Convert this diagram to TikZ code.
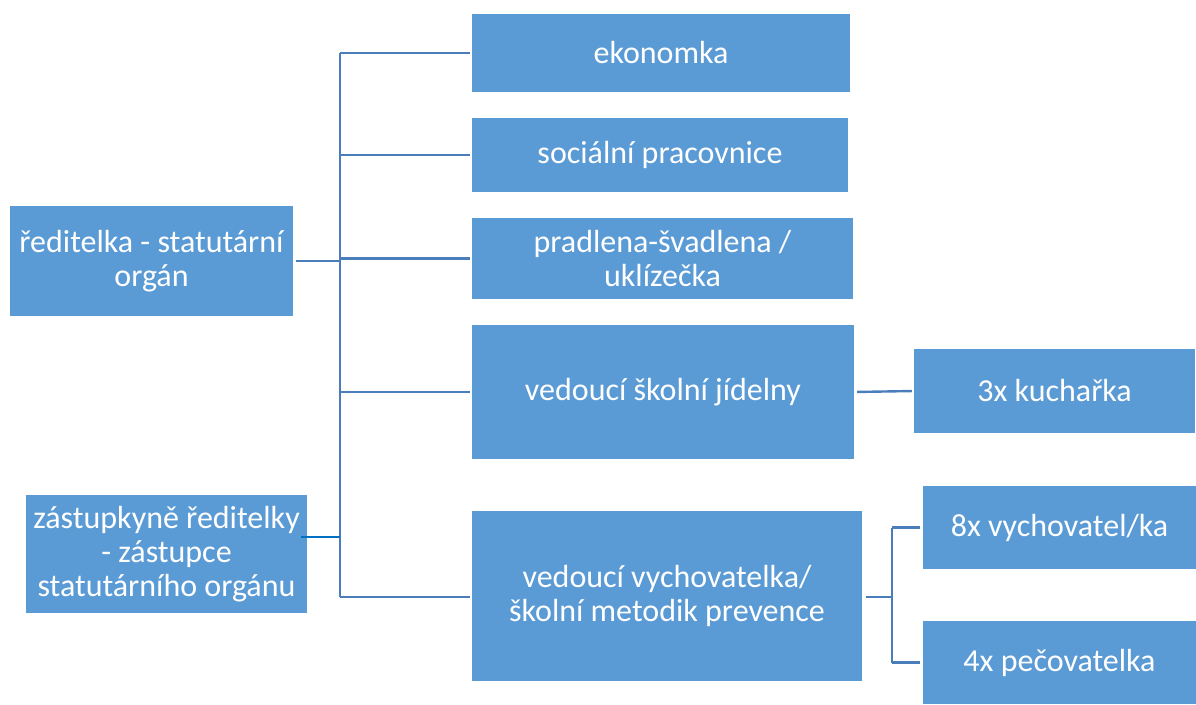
\documentclass[tikz,border=0pt]{standalone}
\usepackage{fontspec}
\setmainfont{Carlito}
\definecolor{boxblue}{HTML}{5B9BD5}
\definecolor{linkblue}{HTML}{4A7EBB}
\definecolor{brightblue}{HTML}{0070C0}
\begin{document}
\begin{tikzpicture}[x=1pt,y=-1pt,
  box/.style={fill=boxblue,draw=none,inner sep=0pt,text=white,align=center,
    font=\fontsize{32}{34}\selectfont},
  link/.style={draw=linkblue,line width=2.4pt},
  zlink/.style={draw=brightblue,line width=2.6pt}]
\useasboundingbox (0,0) rectangle (1196,704);
\node[box,minimum width=378pt,minimum height=78pt] (ekon) at (661,53) {ekonomka};
\node[box,minimum width=376pt,minimum height=74pt] (soc) at (660,155) {sociální pracovnice};
\node[box,minimum width=381pt,minimum height=81pt] (prad) at (662.5,258.5) {pradlena-švadlena /\\uklízečka};
\node[box,minimum width=382pt,minimum height=134pt] (jid) at (663,392) {vedoucí školní jídelny};
\node[box,minimum width=390pt,minimum height=170pt] (vych) at (667,596) {vedoucí vychovatelka/\\školní metodik prevence};
\node[box,minimum width=281pt,minimum height=84pt] (kuch) at (1054.5,391) {3x kuchařka};
\node[box,minimum width=273pt,minimum height=83pt] (vyt) at (1059.5,527.5) {8x vychovatel/ka};
\node[box,minimum width=273pt,minimum height=83pt] (pec) at (1059.5,662.5) {4x pečovatelka};
\node[box,minimum width=283pt,minimum height=110pt] (red) at (151.5,261) {ředitelka - statutární\\orgán};
\node[box,minimum width=281pt,minimum height=118pt] (zast) at (166.5,554) {zástupkyně ředitelky\\- zástupce\\statutárního orgánu};
% bus
\coordinate (bt) at (340,53);
\coordinate (bb) at (340,597);
\draw[link] (bt) -- (bb);
\draw[link,shorten <=2pt] (ekon.west) -- (ekon.west -| bt);
\draw[link,shorten <=2pt] (soc.west) -- (soc.west -| bt);
\draw[link,shorten <=2pt] (prad.west) -- (prad.west -| bt);
\draw[link,shorten <=2pt] (jid.west) -- (jid.west -| bt);
\draw[link,shorten <=2pt] ([yshift=-1pt]vych.west) -- ([yshift=-1pt]vych.west -| bt);
\draw[link,shorten <=3pt] (red.east) -- (red.east -| bt);
\draw[zlink,shorten <=-6pt] ([yshift=17pt]zast.east) -- ([yshift=17pt]zast.east -| bt);
% right side
\draw[link,shorten <=3pt,shorten >=2pt] (jid.east) -- (kuch.west);
\coordinate (vbus) at (892,597);
\draw[link,shorten <=4pt] ([yshift=-1pt]vych.east) -- (vbus);
\draw[link] (vyt.west -| vbus) -- (pec.west -| vbus);
\draw[link,shorten >=3pt] (vyt.west -| vbus) -- (vyt.west);
\draw[link,shorten >=3pt] (pec.west -| vbus) -- (pec.west);
\end{tikzpicture}
\end{document}
